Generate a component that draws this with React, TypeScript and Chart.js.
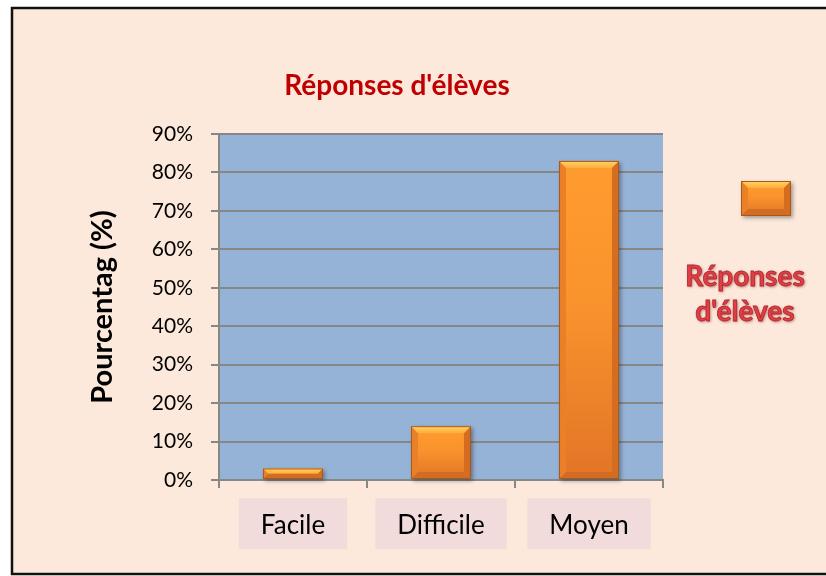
import React, { useEffect, useRef } from 'react';
import { Chart, registerables } from 'chart.js';

Chart.register(...registerables);

const chartTitle = "Réponses d'élèves";
const categories = ['Facile', 'Difficile', 'Moyen'];
const seriesLabel = "Réponses d'élèves";
const values = [3, 14, 83];
const yTitle = 'Pourcentag (%)';
const yMin = 0;
const yMax = 90;
const yStep = 10;

const FONT = 'Lato, "Open Sans", "DejaVu Sans", sans-serif';

function poly(ctx: CanvasRenderingContext2D, pts: number[][], fill: any) {
  ctx.beginPath();
  ctx.moveTo(pts[0][0], pts[0][1]);
  for (let i = 1; i < pts.length; i++) ctx.lineTo(pts[i][0], pts[i][1]);
  ctx.closePath();
  ctx.fillStyle = fill;
  ctx.fill();
}

function drawBevelBar(ctx: CanvasRenderingContext2D, left: number, top: number, right: number, bottom: number) {
  const w = right - left;
  const h = bottom - top;
  if (h <= 0 || w <= 0) return;
  const b = Math.min(7, h / 2, w / 2);
  ctx.save();
  ctx.shadowColor = 'rgba(0,0,0,0.35)';
  ctx.shadowBlur = 4;
  ctx.shadowOffsetX = 2;
  ctx.shadowOffsetY = 2;
  const g = ctx.createLinearGradient(0, top, 0, bottom);
  g.addColorStop(0, '#FF9C2F');
  g.addColorStop(0.45, '#F9932D');
  g.addColorStop(1, '#E27527');
  ctx.fillStyle = g;
  ctx.fillRect(left, top, w, h);
  ctx.restore();
  ctx.save();
  const tg = ctx.createLinearGradient(0, top, 0, top + b);
  tg.addColorStop(0, '#FFD464');
  tg.addColorStop(1, '#FFAE3A');
  poly(ctx, [[left, top], [right, top], [right - b, top + b], [left + b, top + b]], tg);
  poly(ctx, [[left, top], [left + b, top + b], [left + b, bottom - b], [left, bottom]], '#EA8128');
  poly(ctx, [[right, top], [right - b, top + b], [right - b, bottom - b], [right, bottom]], '#D56D21');
  poly(ctx, [[left, bottom], [left + b, bottom - b], [right - b, bottom - b], [right, bottom]], '#D26C22');
  ctx.strokeStyle = '#A9581B';
  ctx.lineWidth = 1;
  ctx.strokeRect(left + 0.5, top + 0.5, w - 1, h - 1);
  ctx.restore();
}

const decorPlugin = {
  id: 'decor',
  beforeDraw(chart: any) {
    const { ctx, width, height, chartArea } = chart;
    ctx.save();
    ctx.fillStyle = '#FFFFFF';
    ctx.fillRect(0, 0, width, height);
    ctx.fillStyle = '#FCE9DB';
    ctx.fillRect(11, 7, width, height - 9);
    ctx.strokeStyle = '#111111';
    ctx.lineWidth = 2.5;
    ctx.strokeRect(12, 8, width + 10, height - 10);
    ctx.fillStyle = '#95B3D7';
    ctx.fillRect(chartArea.left, chartArea.top, chartArea.right - chartArea.left, chartArea.bottom - chartArea.top);
    ctx.restore();
  },
  afterDatasetsDraw(chart: any) {
    const { ctx } = chart;
    const meta = chart.getDatasetMeta(0);
    meta.data.forEach((bar: any) => {
      const { x, y, base, width } = bar.getProps(['x', 'y', 'base', 'width'], true);
      drawBevelBar(ctx, x - width / 2, Math.min(y, base), x + width / 2, Math.max(y, base));
    });
  },
  afterDraw(chart: any) {
    const { ctx, chartArea } = chart;
    ctx.save();
    // chart title
    ctx.font = `bold 28px ${FONT}`;
    ctx.fillStyle = '#C00000';
    ctx.textAlign = 'center';
    ctx.textBaseline = 'middle';
    ctx.fillText(chartTitle, 397, 86);
    // legend
    const lx = chartArea.right + 78;
    const ly = chartArea.top + 47;
    drawBevelBar(ctx, lx, ly, lx + 50, ly + 35);
    const label = chart.data.datasets[0].label as string;
    const idx = label.indexOf(' ');
    const lines = [label.slice(0, idx), label.slice(idx + 1)];
    ctx.font = `bold 28px ${FONT}`;
    ctx.textAlign = 'center';
    ctx.textBaseline = 'middle';
    lines.forEach((ln, i) => {
      const tx = chartArea.right + 82;
      const ty = chartArea.top + 143 + i * 35;
      ctx.save();
      ctx.shadowColor = 'rgba(110,0,0,0.55)';
      ctx.shadowBlur = 3;
      ctx.shadowOffsetX = 1;
      ctx.shadowOffsetY = 1;
      ctx.fillStyle = '#DD3F45';
      ctx.fillText(ln, tx, ty);
      ctx.restore();
      ctx.lineWidth = 0.8;
      ctx.strokeStyle = '#B3262C';
      ctx.strokeText(ln, tx, ty);
    });
    ctx.restore();
  },
};

export default function App() {
  const ref = useRef<HTMLCanvasElement | null>(null);
  useEffect(() => {
    if (!ref.current) return;
    const chart = new Chart(ref.current, {
      type: 'bar',
      data: {
        labels: categories,
        datasets: [
          {
            label: seriesLabel,
            data: values,
            backgroundColor: '#F7962F',
            borderColor: '#A9581B',
            borderWidth: 0,
            categoryPercentage: 1,
            barPercentage: 0.405,
          },
        ],
      },
      options: {
        animation: false,
        responsive: false,
        maintainAspectRatio: false,
        layout: { padding: { left: 78, right: 163, top: 134, bottom: 26 } },
        plugins: {
          legend: { display: false },
          title: { display: false },
          tooltip: { enabled: false },
        },
        scales: {
          x: {
            afterFit(scale: any) {
              scale.height = 70;
            },
            grid: {
              display: true,
              drawOnChartArea: false,
              drawTicks: true,
              tickLength: 8,
              color: '#878787',
              lineWidth: 2,
              offset: true,
            },
            border: { display: true, color: '#878787', width: 2 },
            ticks: {
              font: { family: FONT, size: 26 },
              color: '#000000',
              padding: 22,
              showLabelBackdrop: true,
              backdropColor: '#F2DCDB',
              backdropPadding: { top: 12, bottom: 8, left: 22, right: 22 },
            } as any,
          },
          y: {
            min: yMin,
            max: yMax,
            afterFit(scale: any) {
              scale.width = 141;
            },
            grid: {
              color: '#878787',
              lineWidth: 2,
              tickLength: 8,
              drawTicks: true,
            },
            border: { display: true, color: '#878787', width: 2 },
            ticks: {
              stepSize: yStep,
              font: { family: FONT, size: 21 },
              color: '#000000',
              padding: 18,
              callback: (v: any) => `${v}%`,
            },
            title: {
              display: true,
              text: yTitle,
              font: { family: FONT, size: 29, weight: 'bold' },
              color: '#000000',
              padding: { top: 7, bottom: 0 },
            },
          },
        },
      },
      plugins: [decorPlugin],
    });
    return () => chart.destroy();
  }, []);
  return (
    <div style={{ position: 'fixed', left: 0, top: 0, width: 826, height: 576 }}>
      <canvas ref={ref} width={826} height={576} style={{ display: 'block', width: 826, height: 576 }} />
    </div>
  );
}
